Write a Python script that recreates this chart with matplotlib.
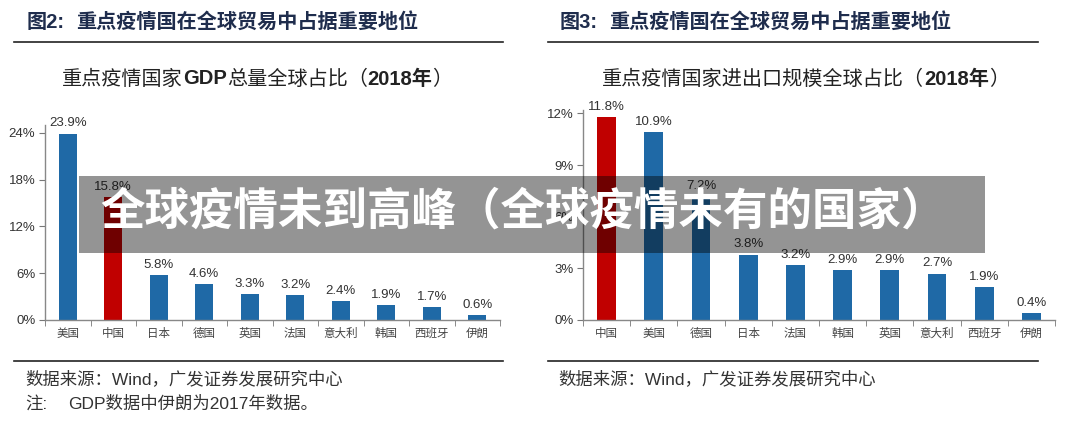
"""
Two bar charts: key epidemic countries' share of global GDP and trade (2018).
"""

import matplotlib
matplotlib.use('Agg')
import matplotlib.pyplot as plt
from matplotlib.patches import Rectangle
from matplotlib.lines import Line2D

# Left chart: GDP share
gdp_countries = ['美国', '中国', '日本', '德国', '英国', '法国', '意大利', '韩国', '西班牙', '伊朗']
gdp_share = [23.9, 15.8, 5.8, 4.6, 3.3, 3.2, 2.4, 1.9, 1.7, 0.6]
gdp_ticks = [0, 6, 12, 18, 24]

# Right chart: import/export share
trade_countries = ['中国', '美国', '德国', '日本', '法国', '韩国', '英国', '意大利', '西班牙', '伊朗']
trade_share = [11.8, 10.9, 7.2, 3.8, 3.2, 2.9, 2.9, 2.7, 1.9, 0.4]
trade_ticks = [0, 3, 6, 9, 12]

BLUE = '#1f69a6'
RED = '#c00000'
NAVY = '#1f2d4d'
CJK = ['Noto Sans CJK SC', 'DejaVu Sans']
MIX = ['Liberation Sans', 'Noto Sans CJK SC']

W, H = 1080, 430
fig = plt.figure(figsize=(W / 100, H / 100), dpi=100)


def fx(px):
    return px / W


def fy(py):
    return 1 - py / H


def draw_bars(ax, cats, vals, ticks, ylim):
    colors = [RED if c == '中国' else BLUE for c in cats]
    x = range(len(cats))
    bars = ax.bar(x, vals, width=0.4, color=colors, zorder=2)
    for b, v in zip(bars, vals):
        ax.annotate(f'{v:.1f}%', (b.get_x() + b.get_width() / 2, v),
                    xytext=(0, 3), textcoords='offset points',
                    ha='center', va='bottom', fontsize=9.5, color='#333333',
                    family=MIX, annotation_clip=False)
    ax.set_xlim(-0.5, len(cats) - 0.5)
    ax.set_ylim(*ylim)
    ax.set_yticks(ticks)
    ax.set_yticklabels([f'{t}%' for t in ticks], family=MIX, fontsize=9.5, color='#333333')
    # category labels centred, tick marks on the boundaries
    ax.set_xticks(list(x))
    ax.set_xticklabels(cats, family=CJK, fontsize=8.3, color='#444444')
    ax.tick_params(axis='x', length=0, pad=5)
    ax.set_xticks([i - 0.5 for i in range(len(cats) + 1)], minor=True)
    ax.tick_params(axis='x', which='minor', length=4, color='#777777', direction='out')
    ax.tick_params(axis='y', length=4, color='#777777', direction='out', pad=3)
    for s in ['top', 'right']:
        ax.spines[s].set_visible(False)
    for s in ['left', 'bottom']:
        ax.spines[s].set_color('#888888')
        ax.spines[s].set_linewidth(1.0)


def run_text(x, y, parts, size, color='#222222'):
    """Draw (string, weight) runs one after another, starting at pixel x."""
    prev = fig.text(fx(x), fy(y), parts[0][0], family=MIX, fontsize=size,
                    fontweight=parts[0][1], color=color, va='center', ha='left')
    for s, w in parts[1:]:
        prev = fig.add_artist(matplotlib.text.Annotation(
            s, xy=(1, 0.5), xycoords=prev, va='center', ha='left',
            family=MIX, fontsize=size, fontweight=w, color=color, annotation_clip=False))
    return prev


ax1 = fig.add_axes([fx(45), fy(320), fx(455), (320 - 125) / H])
draw_bars(ax1, gdp_countries, gdp_share, gdp_ticks, (0, 25))

ax2 = fig.add_axes([fx(583), fy(320), fx(472), (320 - 110) / H])
draw_bars(ax2, trade_countries, trade_share, trade_ticks, (0, 12.2))

# headers, rules and source lines
for x0, x1, tx, num in [(14, 503, 27, '图2:'), (548, 1038, 560, '图3:')]:
    fig.text(fx(tx), fy(22), num, family=MIX, fontsize=14.5, fontweight='bold',
             color=NAVY, va='center', ha='left')
    fig.text(fx(tx + 49), fy(22), '重点疫情国在全球贸易中占据重要地位', family=MIX,
             fontsize=14.5, fontweight='bold', color=NAVY, va='center', ha='left')
    fig.add_artist(Line2D([fx(x0), fx(x1)], [fy(42), fy(42)], color='#222222', lw=1.2))
    fig.add_artist(Line2D([fx(x0), fx(x1)], [fy(361), fy(361)], color='#222222', lw=1.2))
    fig.text(fx(tx - 2), fy(379), '数据来源：Wind，广发证券发展研究中心', family=MIX,
             fontsize=12.5, color='#333333', va='center', ha='left')

run_text(62, 79, [('重点疫情国家', 'normal'), ('GDP', 'bold'), ('总量全球占比（', 'normal'),
                  ('2018年', 'bold'), ('）', 'normal')], 14.5)
run_text(602, 79, [('重点疫情国家进出口规模全球占比（', 'normal'), ('2018年', 'bold'),
                   ('）', 'normal')], 14.5)

fig.text(fx(25), fy(404), '注:', family=MIX, fontsize=12.5, color='#333333', va='center', ha='left')
fig.text(fx(68), fy(404), 'GDP数据中伊朗为2017年数据。', family=MIX, fontsize=12.5,
         color='#333333', va='center', ha='left')

# watermark band
fig.add_artist(Rectangle((fx(79), fy(253)), fx(985 - 79), (253 - 176) / H,
                         transform=fig.transFigure, facecolor='black', alpha=0.42,
                         edgecolor='none', zorder=10))
fig.text(fx(100), fy(212), '全球疫情未到高峰（全球疫情未有的国家）', family=CJK,
         fontsize=32, fontweight='bold', color='white', va='center', ha='left', zorder=11)

fig.savefig('out.png', dpi=100)
